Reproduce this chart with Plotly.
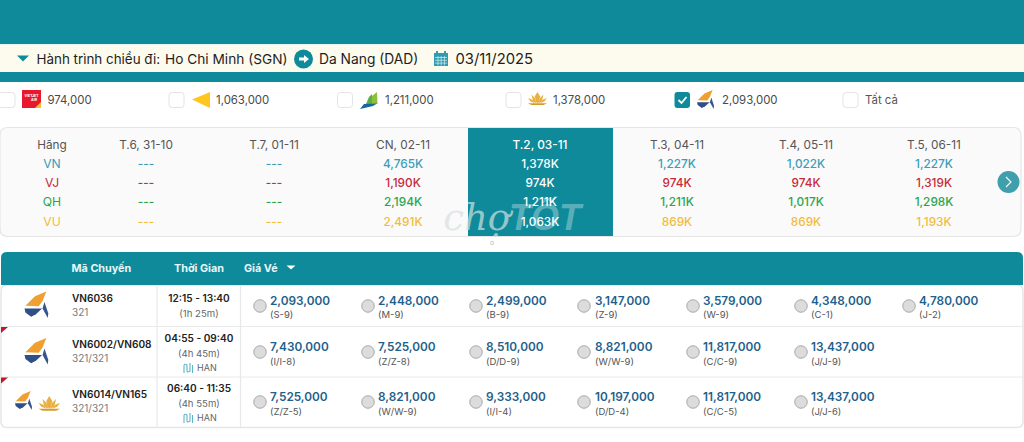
import plotly.graph_objects as go

# ---------- data ----------
route_label = "Hành trình chiều đi:"
origin = "Ho Chi Minh (SGN)"
destination = "Da Nang (DAD)"
travel_date = "03/11/2025"
filter_prices = ["974,000", "1,063,000", "1,211,000", "1,378,000", "2,093,000", "Tất cả"]
days = ["T.6, 31-10", "T.7, 01-11", "CN, 02-11", "T.2, 03-11", "T.3, 04-11", "T.4, 05-11", "T.5, 06-11"]
airlines = ["VN", "VJ", "QH", "VU"]
vn_prices = ["---", "---", "4,765K", "1,378K", "1,227K", "1,022K", "1,227K"]
vj_prices = ["---", "---", "1,190K", "974K", "974K", "974K", "1,319K"]
qh_prices = ["---", "---", "2,194K", "1,211K", "1,211K", "1,017K", "1,298K"]
vu_prices = ["---", "---", "2,491K", "1,063K", "869K", "869K", "1,193K"]
flight_codes = ["VN6036", "VN6002/VN608", "VN6014/VN165"]
aircraft = ["321", "321/321", "321/321"]
times = ["12:15 - 13:40", "04:55 - 09:40", "06:40 - 11:35"]
durations = ["(1h 25m)", "(4h 45m)", "(4h 55m)"]
stops = ["", "HAN", "HAN"]
fares_1 = ["2,093,000", "2,448,000", "2,499,000", "3,147,000", "3,579,000", "4,348,000", "4,780,000"]
classes_1 = ["(S-9)", "(M-9)", "(B-9)", "(Z-9)", "(W-9)", "(C-1)", "(J-2)"]
fares_2 = ["7,430,000", "7,525,000", "8,510,000", "8,821,000", "11,817,000", "13,437,000"]
classes_2 = ["(I/I-8)", "(Z/Z-8)", "(D/D-9)", "(W/W-9)", "(C/C-9)", "(J/J-9)"]
fares_3 = ["7,525,000", "8,821,000", "9,333,000", "10,197,000", "11,817,000", "13,437,000"]
classes_3 = ["(Z/Z-5)", "(W/W-9)", "(I/I-4)", "(D/D-4)", "(C/C-5)", "(J/J-6)"]

# ---------- layout ----------
W, H = 1024, 442
TEAL = "#0E8A9A"
FONT = "Inter"
DY = 1.6  # vertical nudge of text so it sits centred on its row
fig = go.Figure()
shapes = []


def rect(x0, y0, x1, y1, fill, line=None, lw=1):
    shapes.append(dict(type="rect", xref="x", yref="y", x0=x0, y0=y0, x1=x1, y1=y1,
                       fillcolor=fill, line=dict(color=line or "rgba(0,0,0,0)", width=lw if line else 0),
                       layer="below"))


def path(d, fill, line=None, lw=1):
    shapes.append(dict(type="path", xref="x", yref="y", path=d, fillcolor=fill,
                       line=dict(color=line or "rgba(0,0,0,0)", width=lw if line else 0), layer="below"))


def rrect(x0, y0, x1, y1, r, fill, line=None, lw=1):
    d = (f"M{x0+r},{y0} L{x1-r},{y0} Q{x1},{y0} {x1},{y0+r} L{x1},{y1-r} Q{x1},{y1} {x1-r},{y1} "
         f"L{x0+r},{y1} Q{x0},{y1} {x0},{y1-r} L{x0},{y0+r} Q{x0},{y0} {x0+r},{y0} Z")
    path(d, fill, line, lw)


def poly(pts, ox, oy, s, fill):
    d = "M" + " L".join(f"{ox+a*s:.2f},{oy+b*s:.2f}" for a, b in pts) + " Z"
    path(d, fill)


def line(x0, y0, x1, y1, color, lw=1):
    shapes.append(dict(type="line", xref="x", yref="y", x0=x0, y0=y0, x1=x1, y1=y1,
                       line=dict(color=color, width=lw), layer="below"))


def txt(x, y, text, size, color, anchor="center", weight=400, family=FONT):
    pos = {"center": "middle center", "left": "middle right", "right": "middle left"}[anchor]
    fig.add_trace(go.Scatter(x=[x], y=[y + DY], mode="text", text=[text], textposition=pos,
                             textfont=dict(size=size, color=color, family=family, weight=weight),
                             hoverinfo="skip", showlegend=False, cliponaxis=False))


def pacific(ox, oy, s=1.0):
    poly([(23, 0), (11, 5), (1, 15), (15, 15.5), (19, 10)], ox, oy, s, "#F0A030")
    poly([(0, 18), (18.5, 18), (12, 24), (7, 26.5), (1, 22)], ox, oy, s, "#2F4F86")
    poly([(21, 11), (25, 23), (24.5, 28), (19, 18)], ox, oy, s, "#35558C")


def lotus(ox, oy, s=1.0):
    c = "#E8B040"
    poly([(11, 0), (14, 5), (13, 11), (11, 13), (9, 11), (8, 5)], ox, oy, s, c)
    poly([(4, 3), (8, 7), (10, 13), (6, 11)], ox, oy, s, c)
    poly([(18, 3), (14, 7), (12, 13), (16, 11)], ox, oy, s, c)
    poly([(0, 7), (5, 9), (8, 13), (3, 11)], ox, oy, s, c)
    poly([(22, 7), (17, 9), (14, 13), (19, 11)], ox, oy, s, c)
    poly([(0, 13), (22, 13), (18, 15), (4, 15)], ox, oy, s, "#D99A2B")


# page bands
rect(0, 0, W, 44, TEAL)
rect(0, 44, W, 72, "#FDFBEE")
line(0, 44.5, W, 44.5, "#E8F2EE", 1)
rect(0, 72, W, 82, TEAL)

# route header
poly([(0, 0), (12, 0), (6, 6)], 17, 55.5, 1, TEAL)
txt(36.5, 59, route_label, 13.4, "#1E1E1E", "left")
txt(165, 59, origin, 13.7, "#1E1E1E", "left")
shapes.append(dict(type="circle", xref="x", yref="y", x0=294, y0=49.5, x1=313, y1=68.5,
                   fillcolor=TEAL, line=dict(width=0), layer="below"))
poly([(0, 2.5), (5, 2.5), (5, 0), (10, 4), (5, 8), (5, 5.5), (0, 5.5)], 299, 55, 1, "white")
txt(319, 59, destination, 13.8, "#1E1E1E", "left")
rect(434, 53, 448, 66, "#2F9DB0")
rect(436, 51, 438, 54, "#2F9DB0")
rect(444, 51, 446, 54, "#2F9DB0")
for i in range(3):
    line(435, 57.5 + i * 2.8, 447, 57.5 + i * 2.8, "#D8EEF2", 0.7)
for i in range(3):
    line(438 + i * 3.2, 56, 438 + i * 3.2, 65.5, "#D8EEF2", 0.7)
txt(455.5, 59, travel_date, 14.8, "#1E1E1E", "left")

# filter row
check_x = [0, 169, 337.5, 506, 674.5, 843]
text_x = [47.5, 216, 385, 553, 722, 865]
for i, (cx, tx, label) in enumerate(zip(check_x, text_x, filter_prices)):
    if i == 4:
        rrect(cx, 92, cx + 15.5, 108, 3, TEAL)
        path(f"M{cx+4},{100} L{cx+7},{103} L{cx+12},{97}", "rgba(0,0,0,0)", "white", 1.8)
    else:
        rrect(cx + (0 if i else -2), 92.5, cx + 15, 107.5, 3, "white", "#E4E4E4", 1)
    txt(tx, 100, label, 11.4, "#4A4A4A" if i != 5 else "#555555", "left")

# small airline marks in the filter row
rect(22, 90, 41, 108, "#E8192C")
poly([(13, 18), (19, 12), (19, 18)], 22, 90, 1, "#F5C12E")
txt(31.5, 95, "VIETJET", 3.4, "white", "center", 700)
txt(34, 98.5, "AIR", 3.6, "white", "center", 700)
poly([(0, 7.5), (18, 0), (18, 16)], 192, 92, 1, "#FFC61E")
poly([(9, 4), (14, 0), (14.5, 12), (6, 12)], 363, 92, 1, "#8DBF3F")
poly([(6, 5), (9, 2), (9, 12), (3, 12)], 363, 92, 1, "#5FAE45")
poly([(0, 17), (4, 12), (17, 11.5), (13, 14)], 360, 92, 1, "#17679E")
lotus(528, 92, 0.86)
pacific(697, 90, 0.68)

# calendar table card
rrect(0, 127.5, 1021, 236.5, 8, "#FAFAFA", "#E6E6E6", 1.2)
rect(468, 128, 613, 236, TEAL)
row_y = [163, 182, 201, 221]
day_x = [146, 274, 403, 540, 677, 806, 934]
air_colors = ["#3A9DB8", "#C62B38", "#2BA54C", "#F2BC3A"]
txt(52, 144, "Hãng", 11.8, "#555555")
for a, c, y in zip(airlines, air_colors, row_y):
    txt(52, y, a, 12.2, c)
for i, (d, x) in enumerate(zip(days, day_x)):
    sel = i == 3
    txt(x, 144, d, 11.8, "white" if sel else "#555555", weight=500 if sel else 400)
for vals, c, y in zip([vn_prices, vj_prices, qh_prices, vu_prices], air_colors, row_y):
    for i, (v, x) in enumerate(zip(vals, day_x)):
        sel = i == 3
        txt(x, y, v, 11.8, "white" if sel else c, weight=500)
shapes.append(dict(type="circle", xref="x", yref="y", x0=997.5, y0=171, x1=1019.5, y1=193,
                   fillcolor="#3F9FAD", line=dict(width=0), layer="below"))
path("M1006,177 L1011,182 L1006,187", "rgba(0,0,0,0)", "white", 1.1)

# flights table
rrect(1, 285, 1023, 427.5, 6, "white", "#E6E6E6", 1.5)
path("M1,285 L1,258 Q1,252 7,252 L1017,252 Q1023,252 1023,258 L1023,285 Z", TEAL)
txt(71.5, 268, "Mã Chuyến", 10.8, "#E8F6F8", "left", 700)
txt(174, 268, "Thời Gian", 10.8, "#E8F6F8", "left", 700)
txt(244, 268, "Giá Vé", 10.8, "#E8F6F8", "left", 700)
poly([(0, 0), (9, 0), (4.5, 4)], 286.5, 265.5, 1, "white")
line(157, 286, 157, 427, "#E8E8E8", 1.2)
line(240.5, 286, 240.5, 427, "#E8E8E8", 1.2)
line(2, 326.5, 1022, 326.5, "#EAEAEA", 1)
line(2, 377, 1022, 377, "#EAEAEA", 1)
poly([(0, 0), (7, 0), (0, 6)], 1, 327, 1, "#C8142C")
poly([(0, 0), (7, 0), (0, 6)], 1, 377.5, 1, "#C8142C")
pacific(24.5, 291.5, 0.95)
pacific(24.5, 338, 0.95)
pacific(15, 391, 0.68)
lotus(38.5, 396, 0.98)

code_y = [298, 344, 394]
sub_y = [312, 358, 408]
time_y = [298, 338, 388]
dur_y = [313, 353, 403]
stop_y = [0, 367, 417]
fare_y = [300, 346, 396]
class_y = [314.5, 361, 411]
radio_y = [306, 352, 402]
fare_x = [270, 378, 486, 595, 703, 811, 919]
radio_x = [260, 368, 476, 584, 693, 801, 909]

for i in range(3):
    txt(72, code_y[i], flight_codes[i], 10.1, "#222222", "left", 600)
    txt(72, sub_y[i], aircraft[i], 10, "#7A7A7A", "left")
    txt(199, time_y[i], times[i], 10.1, "#222222", "center", 600)
    txt(199, dur_y[i], durations[i], 9.6, "#666666")
    if stops[i]:
        txt(197, stop_y[i], stops[i], 9, "#666666", "left")
        sy = stop_y[i] + 1
        path(f"M184,{sy+5} L184,{sy-2} Q184,{sy-5} 187,{sy-3} L187,{sy+3} "
             f"Q187,{sy+5} 190,{sy+3} L190,{sy-5} M192.5,{sy-3} L192.5,{sy+5}",
             "rgba(0,0,0,0)", "#5FB5C4", 1.1)

for r, (fares, classes) in enumerate(zip([fares_1, fares_2, fares_3], [classes_1, classes_2, classes_3])):
    n = len(fares)
    fig.add_trace(go.Scatter(x=radio_x[:n], y=[radio_y[r]] * n, mode="markers",
                             marker=dict(size=12.5, color="#DCDCDC", line=dict(color="#A8A8A8", width=1)),
                             hoverinfo="skip", showlegend=False))
    fig.add_trace(go.Scatter(x=fare_x[:n], y=[fare_y[r] + DY] * n, mode="text", text=fares,
                             textposition="middle right",
                             textfont=dict(size=11.8, color="#1F5F8B", family=FONT, weight=600),
                             hoverinfo="skip", showlegend=False))
    fig.add_trace(go.Scatter(x=fare_x[:n], y=[class_y[r] + DY] * n, mode="text", text=classes,
                             textposition="middle right",
                             textfont=dict(size=9.5, color="#555555", family=FONT),
                             hoverinfo="skip", showlegend=False))

# watermark
txt(510, 219, "<i>chợ</i>", 37, "rgba(215,225,225,0.7)", "right", 400, "DejaVu Serif")
txt(509, 219, "<i>TỐT</i>", 36, "rgba(255,255,255,0.32)", "left", 700, "Liberation Sans")
txt(492, 242, "o", 7, "#BBBBBB")

fig.update_layout(
    width=W, height=H, margin=dict(l=0, r=0, t=0, b=0),
    paper_bgcolor="white", plot_bgcolor="white", showlegend=False,
    xaxis=dict(range=[0, W], visible=False, fixedrange=True),
    yaxis=dict(range=[H, 0], visible=False, fixedrange=True),
    shapes=shapes, font=dict(family=FONT),
)
fig.write_html("out.html", config={"displayModeBar": False},
               post_script="document.body.style.margin='0';document.body.style.overflow='hidden';")
